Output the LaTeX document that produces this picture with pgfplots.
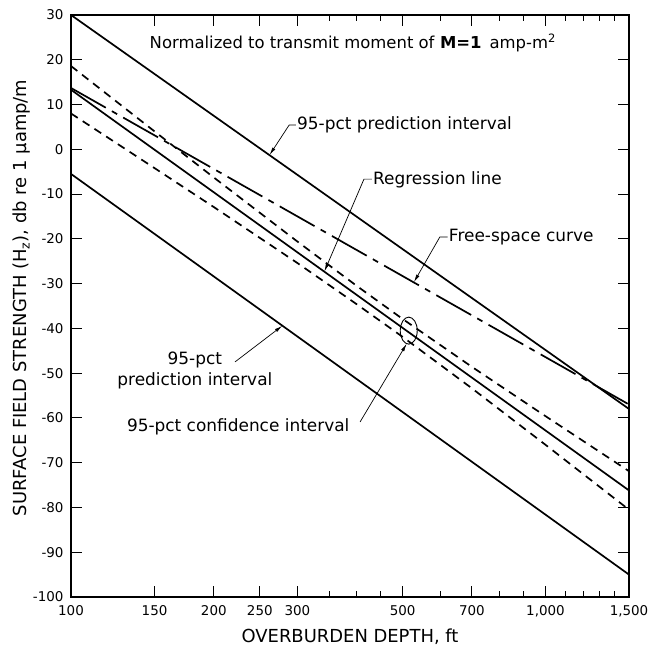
\documentclass[border=0pt]{standalone}
\usepackage{pgfplots}
\pgfplotsset{compat=1.18}
\usepackage{fontspec}
\setmainfont{DejaVu Sans}
\usetikzlibrary{arrows.meta}

\begin{document}
\begin{tikzpicture}
\useasboundingbox (-71bp,-54bp) rectangle (595bp,597bp);
\begin{axis}[
    scale only axis,
    width=558bp, height=582bp,
    xmode=log, log basis x=10,
    xmin=100, xmax=1500,
    ymin=-100, ymax=30,
    axis line style={line width=1.3bp},
    xtick={100,150,200,250,300,500,700,1000,1500},
    xticklabels={100,150,200,250,300,500,700,{1,000},{1,500}},
    minor xtick={350,400,450,600,800,900,1100,1200,1300,1400},
    ytick={-100,-90,...,30},
    yticklabels={-100,-90,-80,-70,-60,-50,-40,-30,-20,-10,0,10,20,30},
    tick align=inside,
    major tick length=11bp, minor tick length=6bp,
    every tick/.style={black, line width=1bp},
    ticklabel style={font=\fontsize{13.5}{15}\selectfont},
    yticklabel style={xshift=-4bp},
    xticklabel style={yshift=-5bp},
    xlabel={OVERBURDEN DEPTH, ft},
    ylabel={SURFACE FIELD STRENGTH (H\textsubscript{z}), db re 1 μamp/m},
    label style={font=\fontsize{18}{20}\selectfont},
    xlabel style={at={(axis description cs:0.5,-0.0687)}, anchor=center},
    ylabel style={at={(axis description cs:-0.0878,0.514)}, anchor=center},
    clip=false,
]
% 95-pct prediction interval (upper, lower)
\addplot[black, line width=1.7bp] coordinates {(100,30) (1500,-58)};
\addplot[black, line width=1.7bp] coordinates {(100,-5.5) (1500,-95)};
% regression line
\addplot[black, line width=1.7bp] coordinates {(100,13.3) (1500,-76.2)};
% 95-pct confidence interval
\addplot[black, line width=1.7bp, dash pattern=on 8bp off 6bp] coordinates {
(100,18.6) (150,4.0) (200,-6.3) (300,-20.6) (400,-30.5) (500,-37.9) (700,-48.6) (1000,-59.6) (1500,-71.9)};
\addplot[black, line width=1.7bp, dash pattern=on 8bp off 6bp] coordinates {
(100,8.0) (150,-4.2) (200,-12.9) (300,-25.4) (400,-34.6) (500,-41.9) (700,-53.4) (1000,-66.0) (1500,-80.5)};
% free-space curve
\addplot[black, line width=1.7bp, dash pattern=on 40bp off 7bp on 6bp off 7bp] coordinates {(100,13.7) (1500,-57)};

\tikzset{lead/.style={black, line width=0.7bp, -{Latex[length=8bp,width=3.5bp]}}}
\node[font=\fontsize{16.5}{18}\selectfont] at (rel axis cs:0.505,0.952)
    {Normalized to transmit moment of \textbf{M=1}\, amp-m\textsuperscript{2}};

\node[anchor=west, inner sep=0pt, font=\fontsize{17}{19}\selectfont] at (rel axis cs:0.405,0.811) {95-pct prediction interval};
\draw[lead] (rel axis cs:0.403,0.811) -- (rel axis cs:0.391,0.811) -- (axis cs:262,-1.3);

\node[anchor=west, inner sep=0pt, font=\fontsize{17}{19}\selectfont] at (rel axis cs:0.541,0.7165) {Regression line};
\draw[lead] (rel axis cs:0.539,0.718) -- (rel axis cs:0.525,0.718) -- (axis cs:342,-27.3);

\node[anchor=west, inner sep=0pt, font=\fontsize{17}{19}\selectfont] at (rel axis cs:0.677,0.6186) {Free-space curve};
\draw[lead] (rel axis cs:0.675,0.6186) -- (rel axis cs:0.661,0.6186) -- (axis cs:528,-29.7);

\node[align=center, inner sep=0pt, font=\fontsize{17}{21}\selectfont] at (rel axis cs:0.222,0.390) {95-pct\\prediction interval};
\draw[lead] (rel axis cs:0.294,0.404) -- (axis cs:279,-39.4);

\node[anchor=west, inner sep=0pt, font=\fontsize{17}{19}\selectfont] at (rel axis cs:0.100,0.292) {95-pct confidence interval};
\draw[black, line width=0.9bp] (axis cs:515,-40.5) ellipse [x radius=8.5bp, y radius=13.5bp];
\draw[lead] (rel axis cs:0.518,0.3007) -- ([shift={(-2bp,-13bp)}]axis cs:515,-40.5);
\end{axis}
\end{tikzpicture}
\end{document}
